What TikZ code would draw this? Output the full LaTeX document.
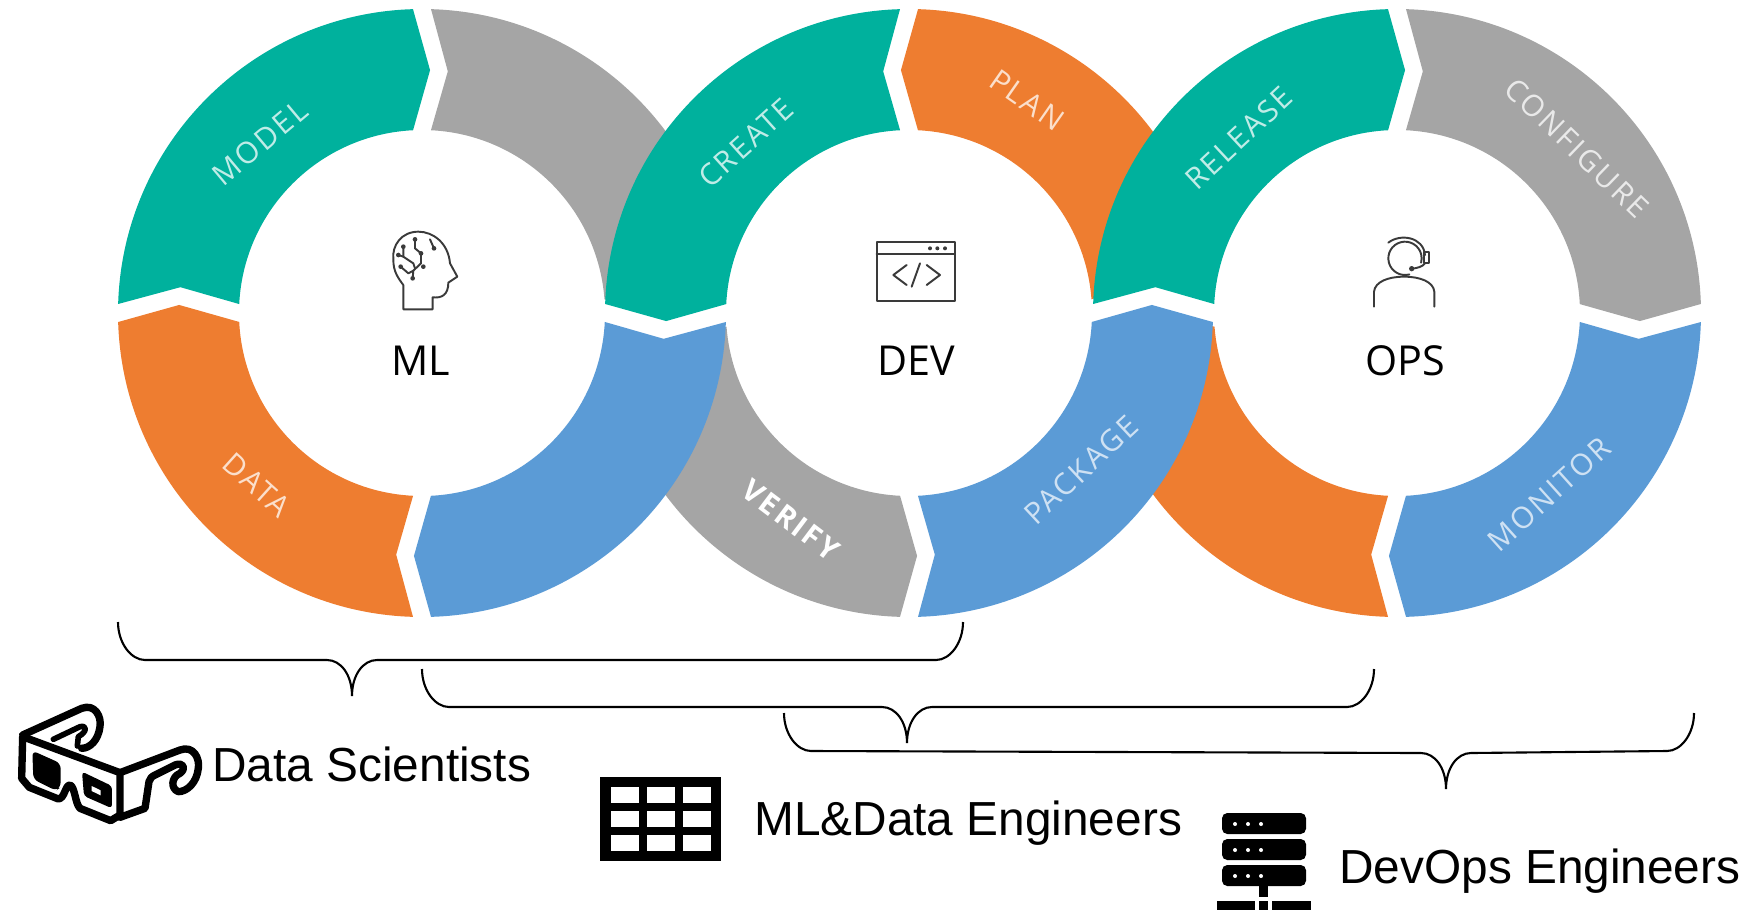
\documentclass[tikz,border=0pt]{standalone}
\usepackage{fontspec}
\setmainfont{Liberation Sans}
\newfontfamily\hubfont{Open Sans}
\newfontfamily\stagefont[LetterSpace=8]{Open Sans}
\usetikzlibrary{
    calc,
    positioning
}
\definecolor{tealseg}{HTML}{00B19D}
\definecolor{orangeseg}{HTML}{EE7D30}
\definecolor{blueseg}{HTML}{5B9BD6}
\definecolor{grayseg}{HTML}{A5A5A5}
\definecolor{iconline}{HTML}{3A3A3A}
\tikzset{
    hub/.style={font=\hubfont\fontsize{23.5}{24}\selectfont, text=black, inner sep=0pt},
    stage/.style={font=\stagefont\fontsize{17}{17}\selectfont, inner sep=0pt},
    team/.style={font=\fontsize{27.2}{28}\selectfont, anchor=west, inner sep=0pt},
    bracket/.style={draw=black, line width=1.2pt},
    zoomed/.style={x=0.00667cm, y=-0.00667cm},
    thinicon/.style={draw=iconline, line width=1.1pt, line join=round, line cap=round},
    fatline/.style={draw=black, line width=4.2pt, line join=round, line cap=round}
}
% centre, colour, flow (+1 clockwise, -1 anticlockwise), first angle, last angle
\newcommand{\ringseg}[5]{
    \fill[#2, shift={#1}] (#4+1.7:304) arc[start angle=#4+1.7, end angle=#5-1.7, radius=304]
        -- ({#5-2.1+#3*4}:243) -- (#5-2.8:183)
        arc[start angle=#5-2.8, end angle=#4+2.8, radius=183]
        -- ({#4+2.1+#3*4}:243) -- cycle;
}
% left end, tip, right end
\newcommand{\bracket}[3]{
    \draw[bracket] (#1) .. controls +(0,21) and +(-14,0) .. ($(#1)+(27,38)$)
        -- ($(#2)+(-25,-36)$) .. controls +(14,0) and +(0,-21) .. (#2)
        .. controls +(0,-21) and +(-14,0) .. ($(#2)+(25,-36)$)
        -- ($(#3)+(-27,38)$) .. controls +(14,0) and +(0,21) .. (#3);
}
\begin{document}
\begin{tikzpicture}[x=0.02cm, y=-0.02cm]
    \useasboundingbox (0,0) rectangle (1747,910);

    % the parts that pass under the next ring
    \ringseg{(422,313)}{grayseg}{1}{270}{358.5}
    \ringseg{(909,313)}{grayseg}{-1}{90}{178.5}
    \ringseg{(909,313)}{orangeseg}{-1}{270}{358.5}
    \ringseg{(1397,313)}{orangeseg}{1}{90}{178.5}

    \ringseg{(422,313)}{tealseg}{1}{180}{270}
    \ringseg{(422,313)}{orangeseg}{1}{90}{180}
    \ringseg{(422,313)}{blueseg}{1}{0}{90}
    \ringseg{(909,313)}{tealseg}{-1}{180}{270}
    \ringseg{(909,313)}{blueseg}{-1}{0}{90}
    \ringseg{(1397,313)}{tealseg}{1}{180}{270}
    \ringseg{(1397,313)}{grayseg}{1}{270}{360}
    \ringseg{(1397,313)}{blueseg}{1}{0}{90}

    \node[stage, text=tealseg!25!white, rotate=40] (model) at (260,143) {MODEL};
    \node[stage, text=orangeseg!25!white, rotate=-42] (data) at (257,485) {DATA};
    \node[stage, text=tealseg!25!white, rotate=42] (create) at (746,143) {CREATE};
    \node[stage, text=orangeseg!25!white, rotate=-35] (plan) at (1027,100) {PLAN};
    \node[stage, text=white, font=\stagefont\bfseries\fontsize{17}{17}\selectfont, rotate=-37] (verify) at (791,520) {VERIFY};
    \node[stage, text=blueseg!30!white, rotate=43] (package) at (1081,470) {PACKAGE};
    \node[stage, text=tealseg!25!white, rotate=43] (release) at (1239,138) {RELEASE};
    \node[stage, text=grayseg!25!white, rotate=-44] (configure) at (1577,148) {CONFIGURE};
    \node[stage, text=blueseg!30!white, rotate=42] (monitor) at (1549,494) {MONITOR};

    \node[hub] (ml) at (421,361) {ML};
    \node[hub] (dev) at (916,361) {DEV};
    \node[hub] (ops) at (1405,361) {OPS};

    % head
    \begin{scope}[shift={(360,210)}, zoomed]
        \draw[thinicon] (130,225) -- (130,298) -- (218,298) -- (218,262)
            .. controls (245,265) and (265,255) .. (265,218) -- (292,200) -- (270,160)
            .. controls (265,100) and (220,65) .. (175,65)
            .. controls (125,65) and (95,105) .. (100,150)
            .. controls (100,185) and (115,205) .. (130,225);
        \draw[thinicon] (165,88) -- (165,115) -- (183,130) -- (183,160) -- (160,182) -- (158,205);
        \draw[thinicon] (122,170) -- (145,190) -- (160,182);
        \draw[thinicon] (130,110) -- (130,140) -- (160,160) -- (165,175);
        \draw[thinicon] (115,135) -- (130,140);
        \draw[thinicon] (210,88) -- (222,115);
        \foreach \dotx/\doty in {165/88, 183/130, 122/170, 158/205, 130/110, 115/135, 190/170, 222/115}
            \fill[iconline] (\dotx,\doty) circle (7);
    \end{scope}

    % code window
    \begin{scope}[shift={(860,220)}, zoomed]
        \draw[thinicon] (50,65) rectangle (285,243);
        \draw[thinicon] (50,103) -- (285,103);
        \foreach \dotx in {210,232,255}
            \fill[iconline] (\dotx,85) circle (6);
        \draw[thinicon] (140,135) -- (100,165) -- (140,195);
        \draw[thinicon] (180,130) -- (155,200);
        \draw[thinicon] (200,135) -- (240,165) -- (200,195);
    \end{scope}

    % headset
    \begin{scope}[shift={(1350,220)}, zoomed]
        \draw[thinicon] (165,115) ++(75:50) arc[start angle=75, end angle=375, radius=50];
        \draw[thinicon] (115,68) .. controls (150,40) and (220,50) .. (225,105);
        \draw[thinicon] (222,95) rectangle (236,130);
        \draw[thinicon] (225,130) .. controls (218,140) and (200,145) .. (185,146);
        \fill[iconline] (185,146) circle (8);
        \draw[thinicon] (72,260) -- (72,215) .. controls (75,185) and (115,170) .. (162,170)
            .. controls (210,170) and (250,185) .. (253,215) -- (253,260);
    \end{scope}

    \coordinate (bra) at (118,622);
    \coordinate (brtipa) at (352,696);
    \coordinate (brb) at (963,622);
    \coordinate (brc) at (422,669);
    \coordinate (brtipb) at (907,743);
    \coordinate (brd) at (1374,669);
    \coordinate (bre) at (784,713);
    \coordinate (brtipc) at (1446,789);
    \coordinate (brf) at (1694,713);
    \bracket{bra}{brtipa}{brb}
    \bracket{brc}{brtipb}{brd}
    \bracket{bre}{brtipc}{brf}

    % glasses
    \begin{scope}[shift={(0,680)}, zoomed]
        \draw[fatline] (68,170) -- (360,278) -- (360,405) -- (332,422) -- (240,385)
            .. controls (225,370) and (225,320) .. (210,315)
            .. controls (195,315) and (195,355) .. (175,357) -- (88,322) -- (65,295) -- cycle;
        \fill[black, rounded corners=3pt] (97,212) -- (182,250) -- (182,322) -- (168,332) -- (100,298) -- cycle;
        \fill[black, rounded corners=2pt] (246,275) -- (336,318) -- (336,385) -- (252,348) -- cycle;
        \fill[white] (275,318) -- (302,331) -- (302,346) -- (275,333) -- cycle;
        \draw[fatline] (68,165) -- (245,85) .. controls (285,70) and (305,110) .. (300,140)
            .. controls (295,180) and (270,205) .. (245,205);
        \draw[fatline, line width=3.2pt] (160,178) -- (240,140) .. controls (262,135) and (262,155) .. (235,170) -- (232,198);
        \draw[fatline] (360,278) -- (540,210) .. controls (580,195) and (600,235) .. (595,265)
            .. controls (590,310) and (560,335) .. (535,335)
            .. controls (510,325) and (515,290) .. (540,280)
            .. controls (560,265) and (550,245) .. (525,255) -- (465,285)
            .. controls (455,290) and (450,295) .. (447,305) -- (435,385) -- (360,412);
    \end{scope}
    \node[team] (scientists) at (212,764) {Data Scientists};

    % table
    \fill[black] (600,777) rectangle (721,861);
    \foreach \cellx in {611,647,683}
        \foreach \celly in {787,811,835}
            \fill[white] (\cellx,\celly) rectangle ++(28,16);
    \node[team] (engineers) at (754,823) {ML\&Data Engineers};

    % server
    \foreach \bary in {813,839,865} {
        \fill[black, rounded corners=3pt] (1222,\bary) rectangle ++(84,21);
        \foreach \dotx in {1235,1248,1261}
            \fill[white] (\dotx,\bary+11) circle (2);
    }
    \fill[black] (1259,886) rectangle (1268,897);
    \fill[black] (1217,901) rectangle (1255,910);
    \fill[black] (1259,901) rectangle (1268,910);
    \fill[black] (1272,901) rectangle (1311,910);
    \node[team] (devops) at (1339,871) {DevOps Engineers};
\end{tikzpicture}
\end{document}
